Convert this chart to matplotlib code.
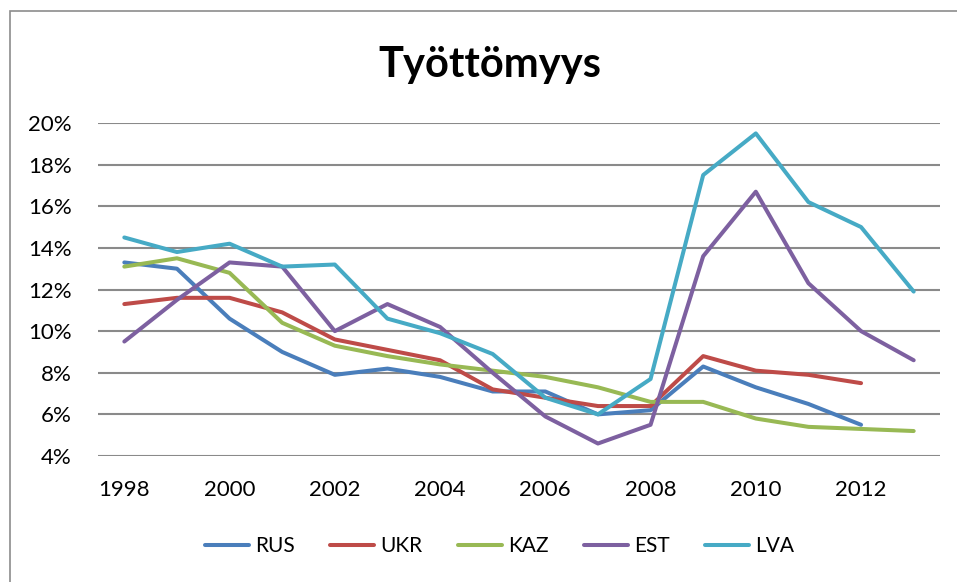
import matplotlib
matplotlib.use("Agg")
import matplotlib.pyplot as plt
import matplotlib.patches as mpatches

plt.rcParams["font.family"] = ["Lato", "DejaVu Sans"]

# työttömyysaste, % (luettu kuvasta)
YEARS = list(range(1998, 2014))
RUS = [13.3, 13.0, 10.6, 9.0, 7.9, 8.2, 7.8, 7.1, 7.1, 6.0, 6.2, 8.3, 7.3, 6.5, 5.5]
UKR = [11.3, 11.6, 11.6, 10.9, 9.6, 9.1, 8.6, 7.2, 6.8, 6.4, 6.4, 8.8, 8.1, 7.9, 7.5]
KAZ = [13.1, 13.5, 12.8, 10.4, 9.3, 8.8, 8.4, 8.1, 7.8, 7.3, 6.6, 6.6, 5.8, 5.4, 5.3, 5.2]
EST = [9.5, 11.5, 13.3, 13.1, 10.0, 11.3, 10.2, 8.0, 5.9, 4.6, 5.5, 13.6, 16.7, 12.3, 10.0, 8.6]
LVA = [14.5, 13.8, 14.2, 13.1, 13.2, 10.6, 9.9, 8.9, 6.8, 6.0, 7.7, 17.5, 19.5, 16.2, 15.0, 11.9]

SERIES = [("RUS", RUS, "#4A7EBB"),
          ("UKR", UKR, "#BE4B48"),
          ("KAZ", KAZ, "#98B954"),
          ("EST", EST, "#7D60A0"),
          ("LVA", LVA, "#46AAC5")]

W, H = 957, 582
fig = plt.figure(figsize=(W / 100, H / 100), dpi=100)

# kehys kuten Excelissä
fig.patches.append(mpatches.Rectangle((10 / W, -0.05), 1.2, 1 - 11 / H + 0.05,
                                      transform=fig.transFigure, fill=False,
                                      edgecolor="#8c8c8c", linewidth=1.2))

ax = fig.add_axes([98 / W, 1 - 456 / H, (940 - 98) / W, (456 - 123) / H])

for name, vals, col in SERIES:
    ax.plot(YEARS[:len(vals)], vals, color=col, linewidth=2.9, label=name,
            solid_capstyle="round", solid_joinstyle="round", zorder=3)

ax.set_xlim(1997.5, 2013.5)
ax.set_ylim(4, 20)
ax.set_yticks(range(4, 21, 2))
ax.set_yticklabels([f"{v}%" for v in range(4, 21, 2)])
ax.set_xticks(range(1998, 2013, 2))
ax.grid(axis="y", color="#8a8a8a", linewidth=1.5, zorder=1)
ax.set_axisbelow(True)
for s in ax.spines.values():
    s.set_visible(False)
ax.tick_params(axis="both", length=0, labelsize=16, colors="black")
ax.tick_params(axis="y", pad=19)
ax.tick_params(axis="x", pad=17)

fig.text(0.512, 1 - 65 / H, "Työttömyys", ha="center", va="center",
         fontsize=30, fontweight="bold")

fig.legend(loc="center", bbox_to_anchor=(0.522, 1 - 546 / H), ncol=5,
           frameon=False, fontsize=15, handlelength=2.1, handletextpad=0.3,
           columnspacing=1.7)

fig.savefig("out.png", dpi=100)
